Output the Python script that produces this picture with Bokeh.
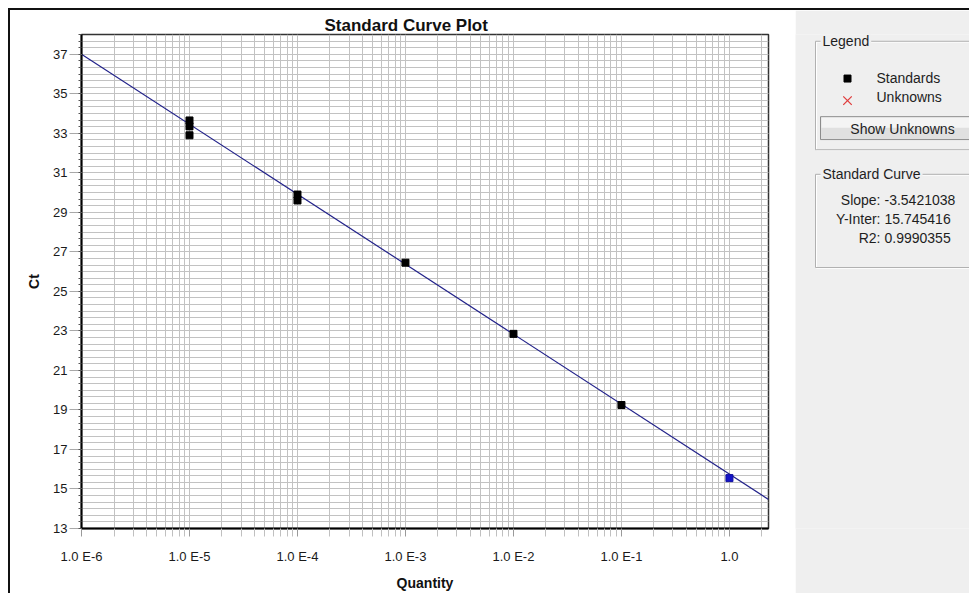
from bokeh.plotting import figure
from bokeh.models import Range1d, FixedTicker, Title
from bokeh.layouts import row
from bokeh.core.properties import value
from bokeh.embed import file_html
from bokeh.resources import INLINE

# ---------------- data ----------------
std_quantity = [1e-5, 1e-5, 1e-5, 1e-4, 1e-4, 1e-3, 1e-2, 1e-1]
std_ct = [33.65, 33.35, 32.9, 29.9, 29.6, 26.45, 22.85, 19.25]
sel_quantity = [1.0]
sel_ct = [15.55]
fit_quantity = [1e-6, 2.3]
fit_ct = [37.0, 14.47]
slope = -3.5421038
y_inter = 15.745416
r2 = 0.9990355
x_major = [1e-6, 1e-5, 1e-4, 1e-3, 1e-2, 1e-1, 1.0]
x_labels = ["1.0 E-6", "1.0 E-5", "1.0 E-4", "1.0 E-3", "1.0 E-2", "1.0 E-1", "1.0"]
y_major = [13, 15, 17, 19, 21, 23, 25, 27, 29, 31, 33, 35, 37]

FONT = "Liberation Sans"
x_minor = [m * 10.0 ** e for e in range(-6, 1) for m in range(2, 10)]
y_minor = [13 + k / 3 for k in range(0, 76)]

# ---------------- main chart ----------------
p = figure(width=785, height=583, x_axis_type="log",
           x_range=Range1d(1e-6, 2.3), y_range=Range1d(13, 38),
           output_backend="svg", toolbar_location=None,
           min_border_left=71, min_border_right=27,
           min_border_top=24, min_border_bottom=58,
           background_fill_color="white", border_fill_color="white")

p.add_layout(Title(text="Standard Curve Plot", align="left", offset=243,
                   text_font=FONT, text_font_size="17px",
                   text_font_style="bold", text_color="#111111", standoff=0), "above")

p.outline_line_color = "#333333"
p.outline_line_width = 1.5

xt = FixedTicker(ticks=x_major, minor_ticks=x_minor)
yt = FixedTicker(ticks=y_major, minor_ticks=y_minor)
p.xaxis.ticker = xt
p.yaxis.ticker = yt
p.xgrid.ticker = xt
p.ygrid.ticker = yt

for g in (p.xgrid, p.ygrid):
    g.grid_line_color = "#c2c2c2"
    g.grid_line_width = 1
    g.minor_grid_line_color = "#c2c2c2"
    g.minor_grid_line_width = 1

p.xaxis.major_label_overrides = {t: lab for t, lab in zip(x_major, x_labels)}

for ax in (p.xaxis, p.yaxis):
    ax.axis_line_color = "black"
    ax.axis_line_width = 2
    ax.major_label_text_font = FONT
    ax.major_label_text_font_size = "13px"
    ax.major_label_text_color = "#1a1a1a"
    ax.axis_label_text_font = FONT
    ax.axis_label_text_font_size = "14px"
    ax.axis_label_text_font_style = "bold"
    ax.axis_label_text_color = "#111111"
    ax.major_tick_in = 0
    ax.minor_tick_in = 0

p.xaxis.axis_label = "Quantity"
p.xaxis.major_tick_out = 8
p.xaxis.major_tick_line_color = "#9a9a9a"
p.xaxis.minor_tick_out = 8
p.xaxis.minor_tick_line_color = "#c0c0c0"
p.xaxis.major_label_standoff = 12
p.xaxis.axis_label_standoff = 8

p.yaxis.axis_label = "Ct"
p.yaxis.major_tick_out = 12
p.yaxis.major_tick_line_color = "#a8a8a8"
p.yaxis.minor_tick_out = 3
p.yaxis.minor_tick_line_color = "#555555"
p.yaxis.major_label_standoff = 2
p.yaxis.axis_label_standoff = 8

p.line(fit_quantity, fit_ct, line_color="#22228a", line_width=1.2)
p.scatter(std_quantity, std_ct, marker="square", size=7,
          fill_color="black", line_color="black")
p.scatter(sel_quantity, sel_ct, marker="square", size=7,
          fill_color="#1414c8", line_color="#1010a0")

# ---------------- side panel ----------------
PANEL = "#efefef"
s = figure(width=174, height=583, x_range=Range1d(795, 969), y_range=Range1d(593, 10),
           output_backend="svg", toolbar_location=None, min_border=0,
           x_axis_location=None, y_axis_location=None,
           background_fill_color=PANEL, border_fill_color=PANEL)
s.outline_line_color = None
s.xgrid.visible = False
s.ygrid.visible = False

# group boxes (etched look)
for (t, b) in [(18, 146), (175, 285)]:
    s.quad(left=[816], right=[990], top=[t + 1], bottom=[b + 1],
           fill_color=None, line_color="white", line_width=1)
    s.quad(left=[815], right=[990], top=[t], bottom=[b],
           fill_color=None, line_color="#b0b0b0", line_width=1)

txt = dict(text_font=value(FONT), text_font_size="14px", text_color="#1e1e1e",
           text_baseline="middle")

s.text(x=[820], y=[18], text=["Legend"], background_fill_color=PANEL,
       padding=2, **txt)
s.text(x=[820], y=[175], text=["Standard Curve"], background_fill_color=PANEL,
       padding=2, **txt)

# legend entries
s.scatter(x=[847], y=[62], marker="square", size=7, fill_color="black", line_color="black")
s.scatter(x=[847], y=[88], marker="x", size=12, fill_color="#e03c3c",
          line_color="#e03c3c", line_width=1.3)
s.text(x=[876, 876], y=[61, 84], text=["Standards", "Unknowns"], **txt)

# button
s.quad(left=[820], right=[990], top=[107], bottom=[134],
       fill_color="#e0e0e0", line_color="#8c8c8c", line_width=1)
s.quad(left=[821], right=[989], top=[108], bottom=[120],
       fill_color="#f4f4f4", line_color=None)
s.text(x=[902], y=[121], text=["Show Unknowns"], text_align="center", **txt)

# statistics
s.text(x=[880, 880, 880], y=[205, 228, 250], text=["Slope:", "Y-Inter:", "R2:"],
       text_align="right", **txt)
s.text(x=[884, 884, 884], y=[205, 228, 250],
       text=[f"{slope}", f"{y_inter}", f"{r2}"], text_align="left", **txt)

layout = row(p, s, styles={"border-top": "2px solid #111111",
                           "border-left": "2px solid #111111",
                           "margin-left": "8px", "margin-top": "8px"})

open("out.html", "w").write(file_html(layout, INLINE))
